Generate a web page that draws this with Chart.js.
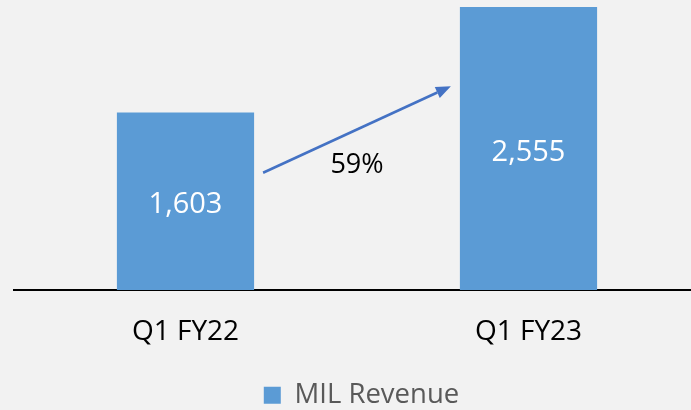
<!DOCTYPE html>
<html>
<head>
<meta charset="utf-8">
<script src="https://cdn.jsdelivr.net/npm/chart.js@4.4.0/dist/chart.umd.min.js"></script>
<style>
  html, body { margin: 0; padding: 0; background: #f2f2f2; }
  canvas { display: block; }
</style>
</head>
<body>
<canvas id="revChart" width="691" height="410"></canvas>
<script>
var categories = ['Q1 FY22', 'Q1 FY23'];
var revenue = [1603, 2555];
var seriesName = 'MIL Revenue';

var FONT = "'Open Sans', 'Noto Sans', sans-serif";

// the category axis runs a little past the right edge of the canvas,
// and the legend sits lower / further right than Chart.js puts it
var tweakLayout = {
	id: 'tweakLayout',
	afterLayout: function (chart) {
		var x = chart.scales.x;
		x.right = chart.width + 9;
		x.width = x.right - x.left;
		x.configure();
		var lg = chart.legend;
		lg.top += 9;
		lg.bottom += 9;
		lg.left += 9;
		lg.right += 9;
	}
};

// white value labels in the middle of each bar, plus the growth arrow
var barExtras = {
	id: 'barExtras',
	afterDatasetsDraw: function (chart) {
		var ctx = chart.ctx;
		var meta = chart.getDatasetMeta(0);
		var yScale = chart.scales.y;
		ctx.save();
		ctx.font = '29px ' + FONT;
		ctx.fillStyle = '#ffffff';
		ctx.textAlign = 'center';
		ctx.textBaseline = 'middle';
		meta.data.forEach(function (bar, i) {
			ctx.fillText(revenue[i].toLocaleString('en-US'), bar.x, (bar.y + bar.base) / 2 + 4);
		});

		// arrow between the bars
		var b1 = meta.data[0], b2 = meta.data[1];
		var x1 = b1.x + b1.width / 2 + 9;
		var x2 = b2.x - b2.width / 2 - 9;
		var y1 = yScale.getPixelForValue(revenue[0] * 0.66);
		var y2 = yScale.getPixelForValue(revenue[1] * 0.72);
		var ang = Math.atan2(y2 - y1, x2 - x1);
		var head = 15;
		ctx.strokeStyle = '#4472c4';
		ctx.fillStyle = '#4472c4';
		ctx.lineWidth = 2.5;
		ctx.beginPath();
		ctx.moveTo(x1, y1);
		ctx.lineTo(x2 - head * Math.cos(ang), y2 - head * Math.sin(ang));
		ctx.stroke();
		ctx.beginPath();
		ctx.moveTo(x2, y2);
		ctx.lineTo(x2 - head * Math.cos(ang) + 6 * Math.sin(ang), y2 - head * Math.sin(ang) - 6 * Math.cos(ang));
		ctx.lineTo(x2 - head * Math.cos(ang) - 6 * Math.sin(ang), y2 - head * Math.sin(ang) + 6 * Math.cos(ang));
		ctx.closePath();
		ctx.fill();

		var growth = Math.round((revenue[1] / revenue[0] - 1) * 100) + '%';
		ctx.fillStyle = '#000000';
		ctx.font = '27px ' + FONT;
		ctx.fillText(growth, (x1 + x2) / 2, (y1 + y2) / 2 + 36);
		ctx.restore();
	}
};

new Chart(document.getElementById('revChart'), {
	type: 'bar',
	data: {
		labels: categories,
		datasets: [{
			label: seriesName,
			data: revenue,
			backgroundColor: '#5b9bd5',
			barPercentage: 0.4,
			categoryPercentage: 1.0
		}]
	},
	options: {
		responsive: false,
		animation: false,
		layout: { padding: { top: 7, left: 14, right: 0, bottom: 0 } },
		plugins: {
			legend: {
				position: 'bottom',
				labels: {
					font: { family: FONT, size: 27.5 },
					color: '#595959',
					boxWidth: 17,
					boxHeight: 17,
					padding: 1
				}
			},
			tooltip: { enabled: false }
		},
		scales: {
			x: {
				grid: { display: false },
				border: { display: true, color: '#000000', width: 2 },
				ticks: {
					font: { family: FONT, size: 28 },
					color: '#000000',
					padding: 17
				},
				afterFit: function (s) { s.height += 6; }
			},
			y: {
				display: false,
				min: 0,
				max: 2555
			}
		}
	},
	plugins: [tweakLayout, barExtras]
});
</script>
</body>
</html>
